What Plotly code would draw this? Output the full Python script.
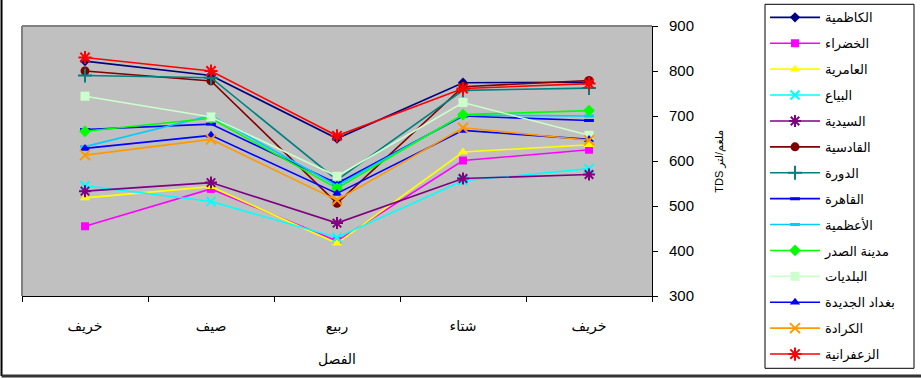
import plotly.graph_objects as go

# Seasons along the x axis (left to right)
seasons = ["خريف", "صيف", "ربيع", "شتاء", "خريف"]

# TDS (mg/L) per district and season
kadhimiya = [822, 790, 650, 774, 775]
khadhraa = [455, 538, 422, 601, 625]
amiriya = [518, 543, 417, 620, 636]
bayaa = [545, 510, 430, 556, 583]
saydiya = [533, 552, 462, 561, 570]
qadisiya = [800, 778, 506, 765, 779]
dora = [790, 785, 558, 757, 762]
qahira = [670, 682, 550, 700, 690]
adhamiya = [632, 701, 545, 702, 700]
sadr_city = [666, 695, 539, 703, 712]
baladiyat = [744, 698, 566, 730, 657]
new_baghdad = [628, 657, 528, 668, 648]
karrada = [613, 648, 513, 674, 646]
zafaraniya = [830, 800, 656, 761, 772]

series = [
    ("الكاظمية", kadhimiya, "#000080", "diamond", 8),
    ("الخضراء", khadhraa, "#FF00FF", "square", 8),
    ("العامرية", amiriya, "#FFFF00", "triangle-up", 9),
    ("البياع", bayaa, "#00FFFF", "x-thin-open", 9),
    ("السيدية", saydiya, "#800080", "asterisk-open", 10),
    ("القادسية", qadisiya, "#800000", "circle", 9),
    ("الدورة", dora, "#008080", "cross-thin-open", 10),
    ("القاهرة", qahira, "#0000FF", "line-ew-open", 7),
    ("الأعظمية", adhamiya, "#00CCFF", "line-ew-open", 7),
    ("مدينة الصدر", sadr_city, "#00FF00", "diamond", 9),
    ("البلديات", baladiyat, "#CCFFCC", "square", 9),
    ("بغداد الجديدة", new_baghdad, "#0000FF", "triangle-up", 9),
    ("الكرادة", karrada, "#FF9900", "x-thin-open", 10),
    ("الزعفرانية", zafaraniya, "#FF0000", "asterisk-open", 11),
]

x_pos = list(range(len(seasons)))

fig = go.Figure()
for name, vals, color, symbol, size in series:
    open_sym = symbol.endswith("-open")
    fig.add_trace(go.Scatter(
        x=x_pos, y=vals, name=name, mode="lines+markers",
        legendgroup=name,
        line=dict(color=color, width=1.6),
        marker=dict(symbol=symbol, size=size, color=color,
                    line=dict(color=color, width=3 if "line-ew" in symbol else (2 if open_sym else 0))),
    ))

font_family = "Liberation Sans, Arial, DejaVu Sans, sans-serif"

fig.update_layout(
    width=921, height=378,
    margin=dict(l=22, r=269, t=26, b=82, autoexpand=False),
    paper_bgcolor="white",
    plot_bgcolor="#C0C0C0",
    font=dict(family=font_family, color="black"),
    showlegend=True,
    legend=dict(
        x=1.1794, xanchor="left", y=1.0874, yanchor="top",
        bgcolor="rgba(0,0,0,0)", borderwidth=0,
        font=dict(size=13, family=font_family),
        itemwidth=50, tracegroupgap=6, traceorder="grouped",
        maxheight=400,
    ),
    xaxis=dict(
        range=[-0.5, 4.5], tickvals=x_pos, ticktext=seasons,
        ticks="", showgrid=False, zeroline=False,
        showline=True, linecolor="black", linewidth=1,
        tickfont=dict(size=14), ticklabelstandoff=17,
        minor=dict(tickvals=[-0.5, 0.5, 1.5, 2.5, 3.5, 4.5], ticks="outside",
                   ticklen=5, tickcolor="black", showgrid=False),
        title=dict(text="الفصل", font=dict(size=14), standoff=20),
    ),
    yaxis=dict(
        range=[300, 900], dtick=100, side="right",
        ticks="outside", ticklen=5, tickcolor="black",
        showgrid=False, zeroline=False,
        showline=True, linecolor="black", linewidth=1,
        tickfont=dict(size=15), ticklabelstandoff=8,
    ),
    annotations=[
        dict(text="TDS ملغم/لتر", textangle=-90, xref="paper", yref="paper",
             x=1.106, y=0.5, xanchor="center", yanchor="middle",
             showarrow=False, font=dict(size=11)),
    ],
    shapes=[
        # legend box
        dict(type="rect", xref="paper", yref="paper", layer="below",
             x0=(765 - 22) / 630, x1=(914 - 22) / 630,
             y0=1 - (368 - 25.7) / 270, y1=1 + (25.7 - 4) / 270,
             fillcolor="white", line=dict(color="black", width=1)),
        # grey plot-area frame (top and left)
        dict(type="line", xref="paper", yref="paper", x0=0, x1=1, y0=1, y1=1,
             line=dict(color="#808080", width=2)),
        dict(type="line", xref="paper", yref="paper", x0=0, x1=0, y0=0, y1=1,
             line=dict(color="#808080", width=2)),
        # outer chart frame (left and bottom)
        dict(type="line", xref="paper", yref="paper", x0=-0.0325, x1=-0.0325, y0=-0.296, y1=1.2,
             line=dict(color="black", width=2)),
        dict(type="line", xref="paper", yref="paper", x0=-0.0325, x1=1.5, y0=-0.296, y1=-0.296,
             line=dict(color="#333333", width=3)),
    ],
)

fig.write_html("out.html")
